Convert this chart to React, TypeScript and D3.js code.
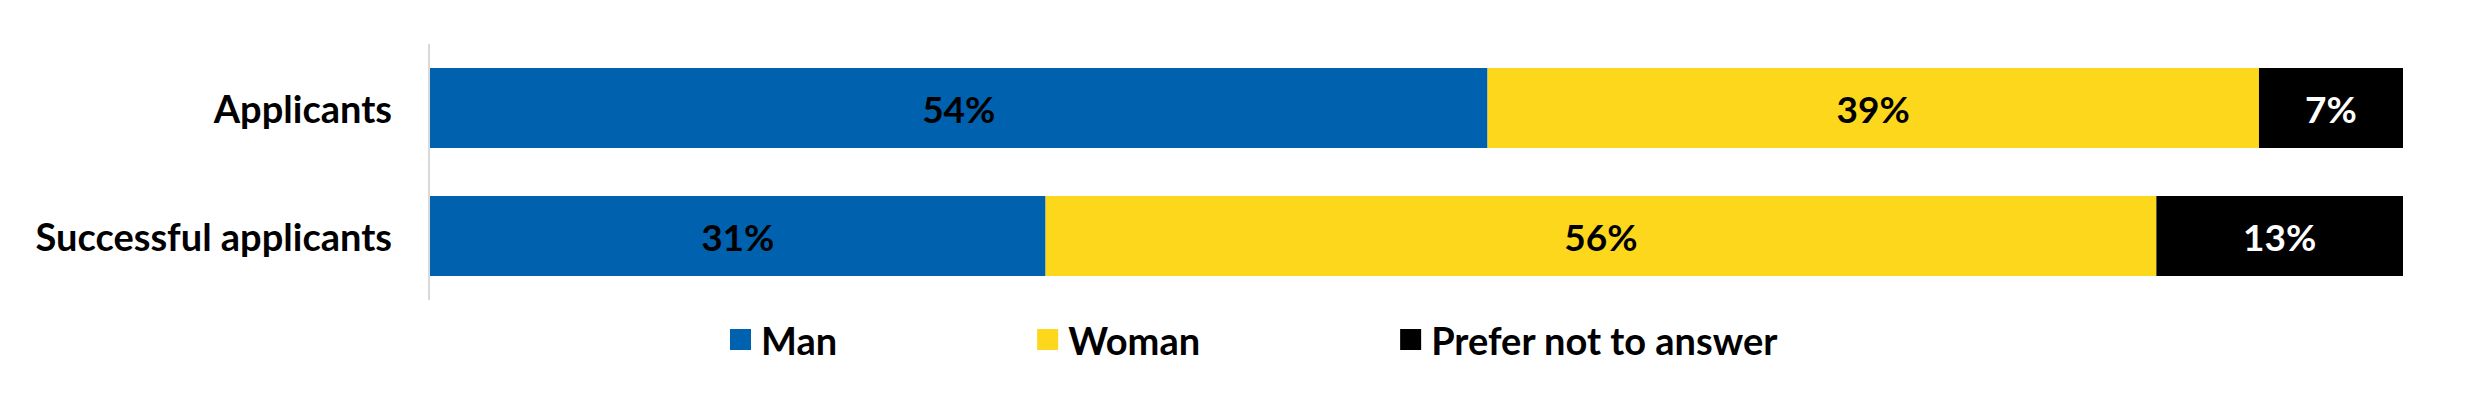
import React, { useRef, useEffect } from 'react';
import * as d3 from 'd3';

// Chart data (shares; labels are rounded)
const categories = ['Applicants', 'Successful applicants'];
const seriesNames = ['Man', 'Woman', 'Prefer not to answer'];
const manValues = [53.6, 31.2];
const womanValues = [39.1, 56.3];
const preferNotValues = [7.3, 12.5];
const seriesColors = ['#0061AF', '#FDD71C', '#000000'];
const labelColors = ['#000000', '#000000', '#FFFFFF'];

const WIDTH = 2474;
const HEIGHT = 406;
const FONT = 'Lato, "Open Sans", sans-serif';

const App: React.FC = () => {
  const svgRef = useRef<SVGSVGElement>(null);

  useEffect(() => {
    document.body.style.margin = '0';
    if (!svgRef.current) return;
    const svg = d3.select(svgRef.current);
    svg.selectAll('*').remove();

    const margin = { top: 44, right: 71, bottom: 106, left: 430 };
    const innerW = WIDTH - margin.left - margin.right;
    const innerH = HEIGHT - margin.top - margin.bottom;

    const rows = categories.map((c, i) => ({
      category: c,
      Man: manValues[i],
      Woman: womanValues[i],
      'Prefer not to answer': preferNotValues[i],
    }));

    const stacked = d3.stack<any>().keys(seriesNames)(rows);

    const x = d3.scaleLinear().domain([0, 100]).range([0, innerW]);
    const y = d3.scaleBand().domain(categories).range([0, innerH]).paddingInner(0.375).paddingOuter(0.1875);

    const g = svg.append('g').attr('transform', `translate(${margin.left},${margin.top})`);

    // Category axis line
    g.append('line')
      .attr('x1', -1).attr('x2', -1)
      .attr('y1', 0).attr('y2', innerH)
      .attr('stroke', '#D9D9D9')
      .attr('stroke-width', 2);

    // Category labels
    g.selectAll('text.cat')
      .data(categories)
      .join('text')
      .attr('class', 'cat')
      .attr('x', -38)
      .attr('y', d => (y(d) as number) + y.bandwidth() / 2)
      .attr('text-anchor', 'end')
      .attr('dominant-baseline', 'central')
      .attr('font-family', FONT)
      .attr('font-weight', 700)
      .attr('font-size', 38)
      .attr('fill', '#000')
      .text(d => d);

    // Stacked bars
    stacked.forEach((layer, si) => {
      const lg = g.append('g');
      lg.selectAll('rect')
        .data(layer)
        .join('rect')
        .attr('x', d => x(d[0]))
        .attr('y', d => y(d.data.category) as number)
        .attr('width', d => x(d[1]) - x(d[0]))
        .attr('height', y.bandwidth())
        .attr('fill', seriesColors[si]);

      lg.selectAll('text')
        .data(layer)
        .join('text')
        .attr('x', d => x((d[0] + d[1]) / 2))
        .attr('y', d => (y(d.data.category) as number) + y.bandwidth() / 2)
        .attr('text-anchor', 'middle')
        .attr('dominant-baseline', 'central')
        .attr('font-family', FONT)
        .attr('font-weight', 700)
        .attr('font-size', 37)
        .attr('fill', labelColors[si])
        .text(d => `${Math.round(d[1] - d[0])}%`);
    });

    // Legend
    const legend = svg.append('g').attr('transform', `translate(730, 340)`);
    let cursor = 0;
    seriesNames.forEach((name, i) => {
      const item = legend.append('g').attr('transform', `translate(${cursor},0)`);
      item.append('rect')
        .attr('x', 0).attr('y', -11)
        .attr('width', 21).attr('height', 21)
        .attr('fill', seriesColors[i]);
      const t = item.append('text')
        .attr('x', 31)
        .attr('y', 0)
        .attr('dominant-baseline', 'central')
        .attr('font-family', FONT)
        .attr('font-weight', 700)
        .attr('font-size', 38)
        .attr('fill', '#000')
        .text(name);
      const w = (t.node() as SVGTextElement).getComputedTextLength();
      cursor += 31 + w + 200;
    });
  }, []);

  return <svg ref={svgRef} width={WIDTH} height={HEIGHT} style={{ display: 'block', background: '#fff' }} />;
};

export default App;
